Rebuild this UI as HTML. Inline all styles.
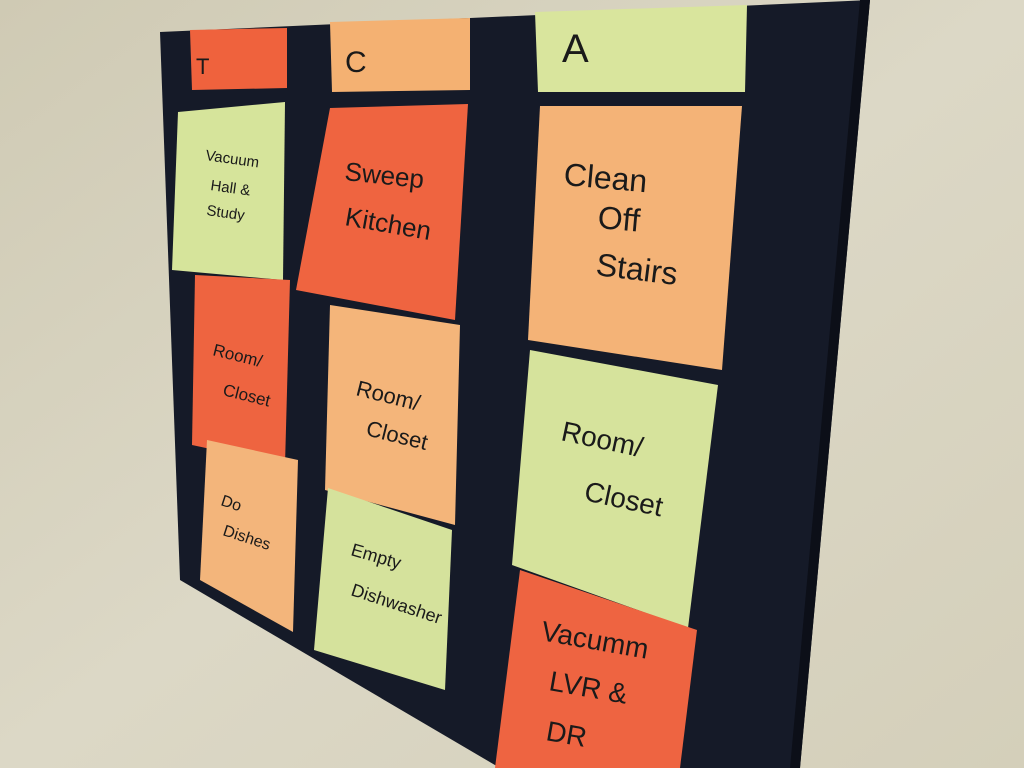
<!DOCTYPE html>
<html><head><meta charset="utf-8"><style>
html,body{margin:0;padding:0;width:1024px;height:768px;overflow:hidden;background:#d6d1bd}
svg{display:block}
text{font-family:"Liberation Sans",sans-serif;fill:#1a1a1a}
</style></head><body>
<svg width="1024" height="768" viewBox="0 0 1024 768">
<defs>
<linearGradient id="wall" x1="0" y1="0" x2="1" y2="1">
<stop offset="0" stop-color="#cfcab4"/><stop offset="0.5" stop-color="#dcd8c6"/><stop offset="1" stop-color="#d4cfba"/>
</linearGradient>
</defs>
<rect width="1024" height="768" fill="url(#wall)"/>
<polygon points="160,32 870,0 800,768 500,768 180,580" fill="#151a28"/>
<polygon points="860,0 870,0 800,768 790,768" fill="#0c0f18"/>
<!-- headers -->
<polygon points="190,30 287,28 287,88 192,90" fill="#ef623d"/>
<polygon points="330,22 470,18 470,90 332,92" fill="#f4b172"/>
<polygon points="535,12 747,5 745,92 538,92" fill="#d9e59d"/>
<text x="196" y="74" font-size="22">T</text>
<text x="345" y="72" font-size="30">C</text>
<text x="562" y="62" font-size="40">A</text>
<!-- row1 -->
<polygon points="178,112 285,102 283,280 172,270" fill="#d6e49b"/>
<polygon points="330,108 468,104 455,320 296,290" fill="#ef6440"/>
<polygon points="540,106 742,106 722,370 528,340" fill="#f4b377"/>
<!-- row2 -->
<polygon points="195,275 290,280 285,465 192,445" fill="#ee6440"/>
<polygon points="330,305 460,325 455,525 325,490" fill="#f4b57a"/>
<polygon points="530,350 718,385 688,628 512,565" fill="#d6e39c"/>
<!-- row3 -->
<polygon points="207,440 298,460 293,632 200,580" fill="#f3b57b"/>
<polygon points="328,488 452,530 445,690 314,650" fill="#d5e29c"/>
<polygon points="520,570 697,630 680,768 495,768" fill="#ee6441"/>
<!-- texts -->
<g font-size="15">
<text x="205" y="160" transform="rotate(8 205 160)">Vacuum</text>
<text x="210" y="190" transform="rotate(8 210 190)">Hall &amp;</text>
<text x="206" y="215" transform="rotate(8 206 215)">Study</text>
</g>
<g font-size="26">
<text x="344" y="180" transform="rotate(6 344 180)">Sweep</text>
<text x="344" y="225" transform="rotate(10 344 225)">Kitchen</text>
</g>
<g font-size="32">
<text x="563" y="185" transform="rotate(5 563 185)">Clean</text>
<text x="597" y="228" transform="rotate(5 597 228)">Off</text>
<text x="595" y="275" transform="rotate(7 595 275)">Stairs</text>
</g>
<g font-size="17">
<text x="212" y="355" transform="rotate(14 212 355)">Room/</text>
<text x="222" y="395" transform="rotate(14 222 395)">Closet</text>
</g>
<g font-size="22">
<text x="355" y="395" transform="rotate(14 355 395)">Room/</text>
<text x="365" y="435" transform="rotate(14 365 435)">Closet</text>
</g>
<g font-size="28">
<text x="560" y="440" transform="rotate(12 560 440)">Room/</text>
<text x="583" y="500" transform="rotate(12 583 500)">Closet</text>
</g>
<g font-size="16">
<text x="220" y="505" transform="rotate(18 220 505)">Do</text>
<text x="222" y="535" transform="rotate(18 222 535)">Dishes</text>
</g>
<g font-size="18">
<text x="350" y="555" transform="rotate(16 350 555)">Empty</text>
<text x="350" y="595" transform="rotate(18 350 595)">Dishwasher</text>
</g>
<g font-size="28">
<text x="540" y="640" transform="rotate(10 540 640)">Vacumm</text>
<text x="548" y="690" transform="rotate(10 548 690)">LVR &amp;</text>
<text x="545" y="740" transform="rotate(10 545 740)">DR</text>
</g>
</svg>
</body></html>
